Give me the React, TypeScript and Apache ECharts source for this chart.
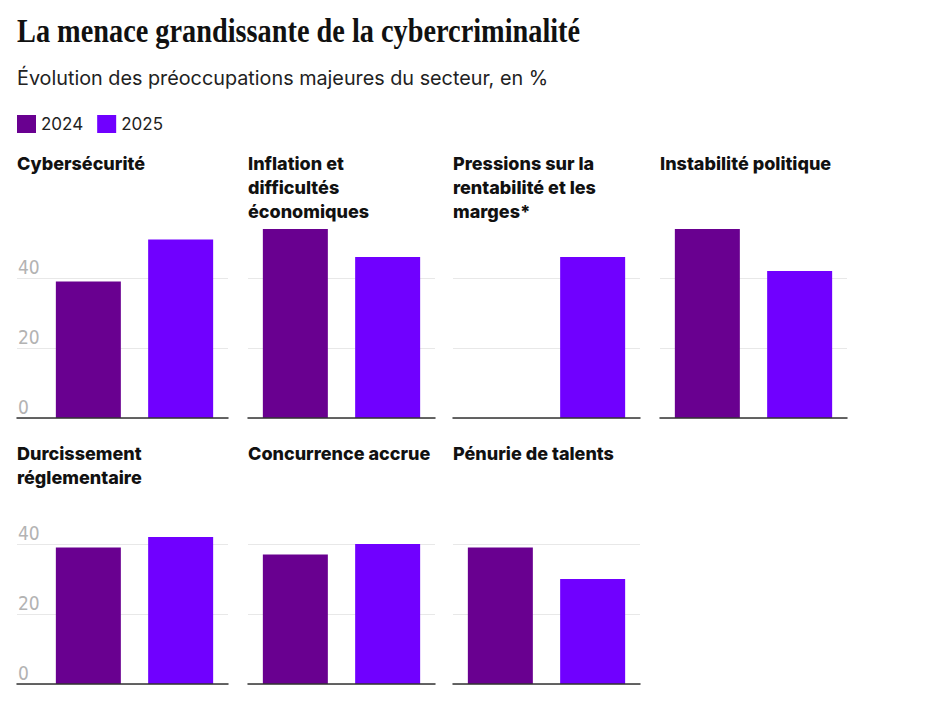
import React, { useEffect, useRef } from 'react';
import * as echarts from 'echarts';

const chartTitle = 'La menace grandissante de la cybercriminalité';
const chartSubtitle = 'Évolution des préoccupations majeures du secteur, en %';
const years = ['2024', '2025'];
const panelTitles = [
  'Cybersécurité',
  'Inflation et\ndifficultés\néconomiques',
  'Pressions sur la\nrentabilité et les\nmarges*',
  'Instabilité politique',
  'Durcissement\nréglementaire',
  'Concurrence accrue',
  'Pénurie de talents',
];
const values2024: (number | null)[] = [39, 54, null, 54, 39, 37, 39];
const values2025: (number | null)[] = [51, 46, 46, 42, 42, 40, 30];
const yMin = 0;
const yMax = 60;
const yInterval = 20;

const COLOR_2024 = '#690090';
const COLOR_2025 = '#7000ff';
const COL_LEFT = [17, 248, 453, 660];
const PANEL_W = 187;
const LABEL_PAD = 24;
const ROW_BASE = [418, 684];
const PLOT_H = 210;
const TITLE_TOP = [151, 441];
const SANS = 'Inter, Roboto, "Noto Sans", sans-serif';
const NARROW = '"Liberation Sans Narrow", "DejaVu Sans Condensed", Roboto, sans-serif';

export default function App() {
  const ref = useRef<HTMLDivElement>(null);

  useEffect(() => {
    if (!ref.current) return;
    const chart = echarts.init(ref.current, null, { renderer: 'svg' });

    const titleFont = 'bold 33px "Liberation Serif", "DejaVu Serif", serif';
    let scaleX = 0.88;
    try {
      const ctx = document.createElement('canvas').getContext('2d');
      if (ctx) {
        ctx.font = titleFont;
        const w = ctx.measureText(chartTitle).width;
        if (w > 0) scaleX = 563 / w;
      }
    } catch (e) {}

    const grids: any[] = [];
    const xAxes: any[] = [];
    const yAxes: any[] = [];
    const series: any[] = [];
    const titles: any[] = [
      {
        text: chartSubtitle,
        left: 17,
        top: 68,
        padding: 0,
        textStyle: { fontSize: 19.8, fontWeight: 'normal', color: '#222', fontFamily: SANS },
      },
    ];

    panelTitles.forEach((name, i) => {
      const row = i < 4 ? 0 : 1;
      const col = i < 4 ? i : i - 4;
      const withLabels = col === 0;
      const frameLeft = COL_LEFT[col];
      const frameW = withLabels ? PANEL_W + LABEL_PAD : PANEL_W;
      const barLeft = withLabels ? frameLeft + LABEL_PAD : frameLeft;
      const top = ROW_BASE[row] - PLOT_H;

      titles.push({
        text: name,
        left: frameLeft,
        top: TITLE_TOP[row],
        padding: 0,
        textStyle: { fontSize: 18, fontWeight: 800, lineHeight: 24, color: '#111', fontFamily: SANS },
      });

      grids.push({ left: frameLeft, top, width: frameW, height: PLOT_H });
      grids.push({ left: barLeft, top, width: PANEL_W, height: PLOT_H });

      xAxes.push({
        gridIndex: 2 * i,
        type: 'category',
        data: [''],
        axisLine: { show: true, lineStyle: { color: '#333', width: 1.5 } },
        axisTick: { show: false },
        axisLabel: { show: false },
        z: 3,
      });
      yAxes.push({
        gridIndex: 2 * i,
        type: 'value',
        min: yMin,
        max: yMax,
        interval: yInterval,
        axisLine: { show: false },
        axisTick: { show: false },
        axisLabel: {
          show: withLabels,
          inside: true,
          margin: 1,
          verticalAlign: 'bottom',
          color: '#b3b3b3',
          fontSize: 19,
          fontFamily: NARROW,
          showMaxLabel: false,
          padding: [0, 0, 2, 0],
        },
        splitLine: {
          show: true,
          lineStyle: { color: ['#e8e8e8', '#e8e8e8', '#e8e8e8', 'rgba(0,0,0,0)'], width: 1 },
        },
      });

      xAxes.push({ gridIndex: 2 * i + 1, type: 'category', data: [''], show: false });
      yAxes.push({ gridIndex: 2 * i + 1, type: 'value', min: yMin, max: yMax, show: false });

      series.push({
        type: 'bar',
        name: years[0],
        xAxisIndex: 2 * i + 1,
        yAxisIndex: 2 * i + 1,
        data: [values2024[i]],
        barWidth: 65,
        barGap: '42%',
        itemStyle: { color: COLOR_2024 },
        z: 2,
      });
      series.push({
        type: 'bar',
        name: years[1],
        xAxisIndex: 2 * i + 1,
        yAxisIndex: 2 * i + 1,
        data: [values2025[i]],
        barWidth: 65,
        barGap: '42%',
        itemStyle: { color: COLOR_2025 },
        z: 2,
      });
    });

    chart.setOption({
      animation: false,
      backgroundColor: '#ffffff',
      color: [COLOR_2024, COLOR_2025],
      title: titles,
      legend: {
        data: years,
        left: 17,
        top: 115,
        padding: 0,
        icon: 'rect',
        itemWidth: 19,
        itemHeight: 18,
        itemGap: 14,
        selectedMode: false,
        textStyle: { fontSize: 17, color: '#222', fontFamily: SANS, padding: [0, 0, 0, 0] },
      },
      grid: grids,
      xAxis: xAxes,
      yAxis: yAxes,
      series,
      graphic: [
        {
          type: 'text',
          x: 17,
          y: 31,
          scaleX,
          style: {
            text: chartTitle,
            font: titleFont,
            fill: '#111',
            verticalAlign: 'middle',
          },
        },
      ],
    });

    return () => chart.dispose();
  }, []);

  return (
    <div
      ref={ref}
      style={{ position: 'absolute', left: 0, top: 0, width: 927, height: 707, background: '#fff' }}
    />
  );
}
